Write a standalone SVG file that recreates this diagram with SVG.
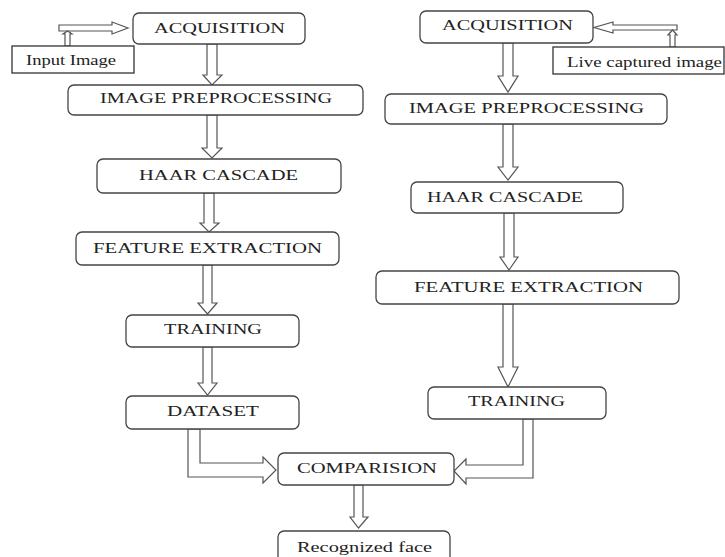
<svg xmlns="http://www.w3.org/2000/svg" width="725" height="557" viewBox="0 0 725 557">
<style>
.box{fill:#fff;stroke:#444;stroke-width:1.3}
.sq{fill:#fff;stroke:#333;stroke-width:1.3}
.ar{fill:#fff;stroke:#555;stroke-width:1.2;stroke-linejoin:miter}
text{font-family:'Liberation Serif','DejaVu Serif',serif;fill:#222;text-anchor:middle}
.t{font-size:15px}
.s{font-size:14px}
</style>
<rect width="725" height="557" fill="#fff"/>
<g id="connectors">
<polygon class="ar" points="59,25 112,25 112,22 128,28 112,34 112,31 59,31"/>
<polygon class="ar" points="65,46 65,34 63,34 67.5,31 72,34 70,34 70,46"/>
<polygon class="ar" points="677,25 613,25 613,22 594,27.5 613,33 613,30 677,30"/>
<polygon class="ar" points="670,47 670,35 668,35 672.5,30 677,35 675,35 675,47"/>
<polygon class="ar" points="207,44 217,44 217,75 222,75 212,85 203,75 207,75"/>
<polygon class="ar" points="207,115 217,115 217,148 222,148 212,158 202,148 207,148"/>
<polygon class="ar" points="204,193 214,193 214,223 219,223 209,232 200,223 204,223"/>
<polygon class="ar" points="203,265 212,265 212,303 217,303 207.5,314 198,303 203,303"/>
<polygon class="ar" points="203,347 212,347 212,383 217,383 207.5,395 198,383 203,383"/>
<polygon class="ar" points="503,43 513,43 513,76 518,76 508,92 498,76 503,76"/>
<polygon class="ar" points="503,124 513,124 513,167 518,167 508,180 498,167 503,167"/>
<polygon class="ar" points="504,213 514,213 514,257 518,257 509,270 500,257 504,257"/>
<polygon class="ar" points="503,304 513,304 513,367 518,367 508,387 498,367 503,367"/>
<polygon class="ar" points="354,485 363,485 363,517 368,517 358.5,528 350,517 354,517"/>
<polygon class="ar" points="188,429 188,477 263,477 263,483 276,470 263,457 263,463 200,463 200,429"/>
<polygon class="ar" points="533,419 533,478 466,478 466,484 454,471 466,459 466,465 523,465 523,419"/>
</g>
<g id="input-image"><rect class="sq" x="12" y="46" width="122" height="27"/><text class="s" x="71" y="65" textLength="90" lengthAdjust="spacingAndGlyphs">Input Image</text></g>
<g id="acq-left"><rect class="box" x="133" y="13" width="172" height="31" rx="6"/><text class="t" x="219.5" y="33" textLength="131" lengthAdjust="spacingAndGlyphs">ACQUISITION</text></g>
<g id="ipp-left"><rect class="box" x="68" y="85" width="295" height="30" rx="6"/><text class="t" x="216" y="103" textLength="232" lengthAdjust="spacingAndGlyphs">IMAGE PREPROCESSING</text></g>
<g id="haar-left"><rect class="box" x="97" y="159" width="244" height="34" rx="6"/><text class="t" x="218.5" y="180" textLength="159" lengthAdjust="spacingAndGlyphs">HAAR CASCADE</text></g>
<g id="fe-left"><rect class="box" x="76" y="232" width="263" height="33" rx="6"/><text class="t" x="207.5" y="253" textLength="229" lengthAdjust="spacingAndGlyphs">FEATURE EXTRACTION</text></g>
<g id="train-left"><rect class="box" x="126" y="315" width="173" height="32" rx="6"/><text class="t" x="213" y="334" textLength="98" lengthAdjust="spacingAndGlyphs">TRAINING</text></g>
<g id="dataset"><rect class="box" x="126" y="396" width="173" height="33" rx="6"/><text class="t" x="213" y="416" textLength="92" lengthAdjust="spacingAndGlyphs">DATASET</text></g>
<g id="live-image"><rect class="sq" x="553" y="47" width="171" height="27"/><text class="s" x="644.5" y="67" textLength="155" lengthAdjust="spacingAndGlyphs">Live captured image</text></g>
<g id="acq-right"><rect class="box" x="420" y="11" width="173" height="32" rx="6"/><text class="t" x="507.5" y="30" textLength="131" lengthAdjust="spacingAndGlyphs">ACQUISITION</text></g>
<g id="ipp-right"><rect class="box" x="385" y="94" width="282" height="30" rx="6"/><text class="t" x="526.5" y="113" textLength="235" lengthAdjust="spacingAndGlyphs">IMAGE PREPROCESSING</text></g>
<g id="haar-right"><rect class="box" x="411" y="182" width="212" height="31" rx="6"/><text class="t" x="505" y="202" textLength="156" lengthAdjust="spacingAndGlyphs">HAAR CASCADE</text></g>
<g id="fe-right"><rect class="box" x="376" y="271" width="303" height="33" rx="6"/><text class="t" x="528.5" y="292" textLength="229" lengthAdjust="spacingAndGlyphs">FEATURE EXTRACTION</text></g>
<g id="train-right"><rect class="box" x="428" y="387" width="178" height="32" rx="6"/><text class="t" x="516.5" y="406" textLength="97" lengthAdjust="spacingAndGlyphs">TRAINING</text></g>
<g id="comparision"><rect class="box" x="278" y="453" width="176" height="32" rx="6"/><text class="t" x="367" y="473" textLength="140" lengthAdjust="spacingAndGlyphs">COMPARISION</text></g>
<g id="recognized"><rect class="box" x="278" y="531" width="172" height="34" rx="6"/><text class="s" x="364.5" y="552" textLength="135" lengthAdjust="spacingAndGlyphs">Recognized face</text></g>
</svg>
